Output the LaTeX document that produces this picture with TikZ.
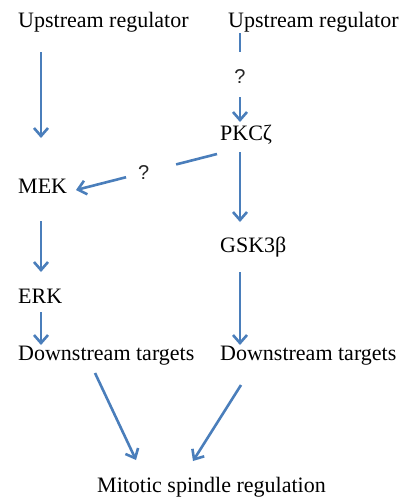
\documentclass[tikz,border=0pt]{standalone}
\usepackage{fontspec}
\setmainfont{Liberation Serif}
\newfontfamily\qfont{Liberation Sans}
\usetikzlibrary{arrows.meta,calc}
\definecolor{arrowblue}{HTML}{4A7EBB}
\tikzset{
  lbl/.style={anchor=base west, inner sep=0pt, font=\fontsize{22}{24}\selectfont, text=black},
  qm/.style={inner sep=0pt, font=\qfont\fontsize{20}{22}\selectfont, text=black!85},
  arr/.style={draw=arrowblue, line width=2.6pt, -{Straight Barb[length=8pt,width=14pt]}},
  seg/.style={draw=arrowblue, line width=2.6pt}
}
\begin{document}
\begin{tikzpicture}[x=1pt,y=-1pt]
\useasboundingbox (0,0) rectangle (403,499);
% text nodes
\node[lbl] (up1) at (18,27) {Upstream regulator};
\node[lbl] (up2) at (228,27) {Upstream regulator};
\node[lbl] (pkc) at (220,140) {PKCζ};
\node[lbl] (mek) at (18,193) {MEK};
\node[lbl] (gsk) at (220,252) {GSK3β};
\node[lbl] (erk) at (18,303) {ERK};
\node[lbl] (ds1) at (18,360) {Downstream targets};
\node[lbl] (ds2) at (220,360) {Downstream targets};
\node[lbl] (mit) at (97,492) {Mitotic spindle regulation};
% left column
\draw[arr] ([shift={(23,25)}]up1.base west) -- ([shift={(23,-55)}]mek.base west);
\draw[arr] ([shift={(23,28)}]mek.base west) -- ([shift={(23,-31)}]erk.base west);
\draw[arr] ([shift={(23,9)}]erk.base west) -- ([shift={(23,-15)}]ds1.base west);
% right column: upstream -> PKC with ?
\coordinate (a1) at ([shift={(12,6)}]up2.base west);
\coordinate (b1) at ([shift={(20,-18)}]pkc.base west);
\draw[seg] (a1) -- ($(a1)!0.21!(b1)$);
\node[qm] (q1) at ($(a1)!0.49!(b1)$) {?};
\draw[arr] ($(a1)!0.72!(b1)$) -- (b1);
% PKC -> GSK3b
\draw[arr] ([shift={(20,12)}]pkc.base west) -- ([shift={(20,-30)}]gsk.base west);
% PKC -> MEK with ?
\coordinate (a2) at ([shift={(-3,14)}]pkc.base west);
\coordinate (b2) at ([shift={(58,-3)}]mek.base west);
\draw[seg] (a2) -- ($(a2)!0.29!(b2)$);
\node[qm] (q2) at ($(a2)!0.52!(b2)$) {?};
\draw[arr] ($(a2)!0.645!(b2)$) -- (b2);
% GSK3b -> downstream
\draw[arr] ([shift={(20,20)}]gsk.base west) -- ([shift={(20,-15)}]ds2.base west);
% downstream -> mitotic
\draw[arr] ([shift={(77,13)}]ds1.base west) -- ([shift={(39,-32)}]mit.base west);
\draw[arr] ([shift={(21,25)}]ds2.base west) -- ([shift={(96,-31)}]mit.base west);
\end{tikzpicture}
\end{document}
